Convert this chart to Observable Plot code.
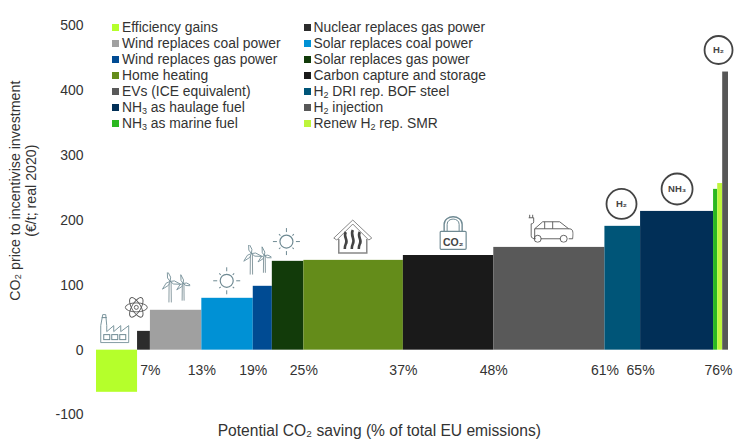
<!DOCTYPE html>
<html><head><meta charset="utf-8">
<script src="https://cdn.jsdelivr.net/npm/d3@7"></script>
<script src="https://cdn.jsdelivr.net/npm/@observablehq/plot@0.6"></script>
<style>
html,body{margin:0;padding:0;background:#fff}
#wrap{position:relative;width:738px;height:441px;font-family:"Liberation Sans",Arial,sans-serif;overflow:hidden}
#wrap svg{display:block}
.lg{position:absolute;display:flex;align-items:center;height:16px;font-size:13.85px;color:#333;white-space:nowrap}
.lg i{display:block;width:7px;height:7px;margin-right:3px}
.lg sub{font-size:9px;line-height:0;vertical-align:-2px}
</style></head><body><div id="wrap"></div>
<script>
const categories=["Efficiency gains","Nuclear replaces gas power","Wind replaces coal power","Solar replaces coal power","Wind replaces gas power","Solar replaces gas power","Home heating","Carbon capture and storage","EVs (ICE equivalent)","H₂ DRI rep. BOF steel","NH₃ as haulage fuel","H₂ injection","NH₃ as marine fuel","Renew H₂ rep. SMR"];
const barStart=[0,4.95,6.5,12.7,18.9,21.2,25,37,47.9,61.3,65.6,74.4,74.9,75.5];
const barEnd=[4.95,6.5,12.7,18.9,21.2,25,37,47.9,61.3,65.6,74.4,74.9,75.5,76.2];
const price=[-65,29,61.5,80,98.5,137,138.5,146,158.5,191,214,248,257,429];
const colors=["#b5ff2b","#2c2c2c","#a0a0a0","#0091d5","#004b93","#123b0a","#648c1a","#1a1a1a","#595959","#005578","#012f57","#2bb820","#bdf53b","#575757"];
const legendColors=["#b5ff2b","#2c2c2c","#a0a0a0","#0091d5","#004b93","#123b0a","#648c1a","#1a1a1a","#595959","#005578","#012f57","#575757","#2bb820","#bdf53b"];
const tickValues=[6.5,12.7,18.9,25,37,47.9,61.3,65.6,75];
const tickLabels=["7%","13%","19%","25%","37%","48%","61%","65%","76%"];
const yTicks=[-100,0,100,200,300,400,500];

const S='#6f8a93',D='#555';
const svg=(w,h,b)=>"data:image/svg+xml;utf8,"+encodeURIComponent(`<svg xmlns="http://www.w3.org/2000/svg" width="${w}" height="${h}" viewBox="0 0 ${w} ${h}" fill="none" stroke="${S}" stroke-width="1">${b}</svg>`);
const turbine=(x,y,s)=>{const arm=(a)=>`<path d="M0 0L${-1.6*s} ${-4*s}L0 ${-11*s}L${1.6*s} ${-4*s}Z" transform="rotate(${a})" fill="#fff" stroke-width="0.8"/>`;
 return `<g transform="translate(${x} ${y})"><path d="M${-1*s} ${1*s}L${-1.2*s} ${21*s}M${1*s} ${1*s}L${1.2*s} ${21*s}" stroke="#8a9ca2"/>${arm(-15)}${arm(105)}${arm(225)}</g>`;};
const sunIcon=svg(30,30,`<circle cx="15" cy="15" r="6.5" stroke-width="1.2"/>`+d3.range(8).map(i=>`<path d="M15 ${i%2?4.5:1.5}L15 ${i%2?6.5:5.5}" transform="rotate(${i*45} 15 15)" stroke-width="1"/>`).join(""));
const icons={
 factory:svg(30,31,`<path d="M1 30V13L3 2H6L7 13V19L14 13V19L21 13V19L29 13V30Z" stroke="#7d979f" stroke-width="1"/><path d="M2 5H7" /><rect x="4" y="22" width="6" height="5"/><rect x="12" y="22" width="6" height="5"/><rect x="20" y="22" width="6" height="5"/>`),
 atom:svg(24,25,`<g stroke="${D}" stroke-width="0.9"><ellipse cx="12" cy="12.5" rx="11" ry="4.5"/><ellipse cx="12" cy="12.5" rx="11" ry="4.5" transform="rotate(60 12 12.5)"/><ellipse cx="12" cy="12.5" rx="11" ry="4.5" transform="rotate(120 12 12.5)"/><circle cx="12" cy="12.5" r="2"/></g>`),
 wind:svg(28,31,turbine(8,9,1)+turbine(21,11,.82)),
 sun:sunIcon,
 house:svg(40,36,`<path d="M1 19L20 1L39 19L36 21L20 5L4 21Z" stroke="#888" stroke-width="1"/><path d="M6 20V34H34V20" stroke="#888" stroke-width="1.5"/><g stroke="#444" stroke-width="2.6"><path d="M13 13C10 18 16 21 13 25C12 27 12 28 12 30"/><path d="M20 11C17 17 23 20 20 25C19 27 19 28 19 30"/><path d="M27 13C24 18 30 21 27 25C26 27 26 28 26 30"/></g>`),
 lock:svg(28,35,`<path d="M5 16V9C5 -1 23 -1 23 9V16" stroke-width="1.4"/><path d="M8 16V9C8 2 20 2 20 9V16" stroke-width="1"/><rect x="1" y="16" width="26" height="18" rx="1" stroke-width="1.2"/>`),
 car:svg(47,29,`<g stroke="${D}" stroke-width="0.9"><path d="M3 1V4M6 1V4M2 4H7V8C7 10 5 10 4.5 10V22C4.5 24 6 25 9 25"/><path d="M8 25V15L16 8H33L42 15C46 15 47 17 46 25H42"/><path d="M14 25H34M18 8V15M26 8V15M8 15H42"/><circle cx="11" cy="25" r="3.5"/><circle cx="37" cy="25" r="3.5"/></g>`)
};
const iconName=["factory","atom","wind","sun","wind","sun","house","lock","car"];
const iconX=[2.2,4.8,9.6,15.7,19.4,22.9,30.9,43,54.7];
const iconY=[34,66,96,107,139,167.5,174.5,181,188];
const iconW=[30,24,28,30,28,30,40,28,47];
const iconH=[31,25,31,30,31,30,36,35,29];
const badgeText=["H₂","NH₃","H₂"];
const badgeX=[63.3,70,75];
const badgeY=[225.5,248.6,463];
const badgeR=[15,15.5,14];

const bars=barStart.map((s,i)=>({x1:s,x2:barEnd[i],v:price[i],c:colors[i]}));
const iconRows=iconName.map((n,i)=>({n,x:iconX[i],y:iconY[i],w:iconW[i],h:iconH[i]}));
const badges=badgeText.map((t,i)=>({t,x:badgeX[i],y:badgeY[i],r:badgeR[i]}));
const ticks=tickValues.map((x,i)=>({x,t:tickLabels[i]}));
const plot=Plot.plot({
 width:738,height:441,marginLeft:96,marginRight:10,marginTop:25.5,marginBottom:26.5,
 style:{fontFamily:'"Liberation Sans",Arial,sans-serif',background:"#fff"},
 x:{domain:[0,76.2],axis:null},
 y:{domain:[-100,500],axis:null},
 marks:[
  Plot.rectY(bars,{x1:"x1",x2:"x2",y1:0,y2:"v",fill:"c",inset:0}),
  Plot.axisY({ticks:yTicks,tickSize:0,tickPadding:13,tickFormat:d=>String(d),label:null,fontSize:14,color:"#333"}),
  Plot.text(ticks,{x:"x",text:"t",y:-31.5,fontSize:14,fill:"#333"}),
  ...iconRows.map(d=>Plot.image([d],{x:"x",y:"y",src:r=>icons[r.n],width:d.w,height:d.h})),
  Plot.text(["CO₂"],{x:[43],y:[166],fontSize:10.5,fontWeight:"bold",fill:"#444"}),
  ...badges.map(d=>Plot.dot([d],{x:"x",y:"y",r:d.r,stroke:"#444",strokeWidth:1.8,fill:"#fff"})),
  Plot.text(badges,{x:"x",y:"y",text:"t",fontSize:9.5,fontWeight:"bold",fill:"#444"}),
  Plot.text(["CO₂ price to incentivise investment"],{x:[-9.8],y:[246],rotate:-90,fontSize:14.2,fill:"#333"}),
  Plot.text(["(€/t; real 2020)"],{x:[-7.85],y:[246],rotate:-90,fontSize:14.2,fill:"#333"}),
  Plot.text(["Potential CO₂ saving (% of total EU emissions)"],{x:[34.1],y:[-124],fontSize:15.6,fill:"#333"})
 ]
});
const wrap=document.getElementById("wrap");
wrap.appendChild(plot);
const fmt=s=>s.replace(/₂/g,"<sub>2</sub>").replace(/₃/g,"<sub>3</sub>");
categories.forEach((c,i)=>{
 const el=document.createElement("div");el.className="lg";
 const col=i%2,row=Math.floor(i/2);
 el.style.left=(col?303.5:112)+"px";el.style.top=(19+row*16)+"px";
 el.innerHTML=`<i style="background:${legendColors[i]}"></i><span>${fmt(c)}</span>`;
 wrap.appendChild(el);
});
</script></body></html>
